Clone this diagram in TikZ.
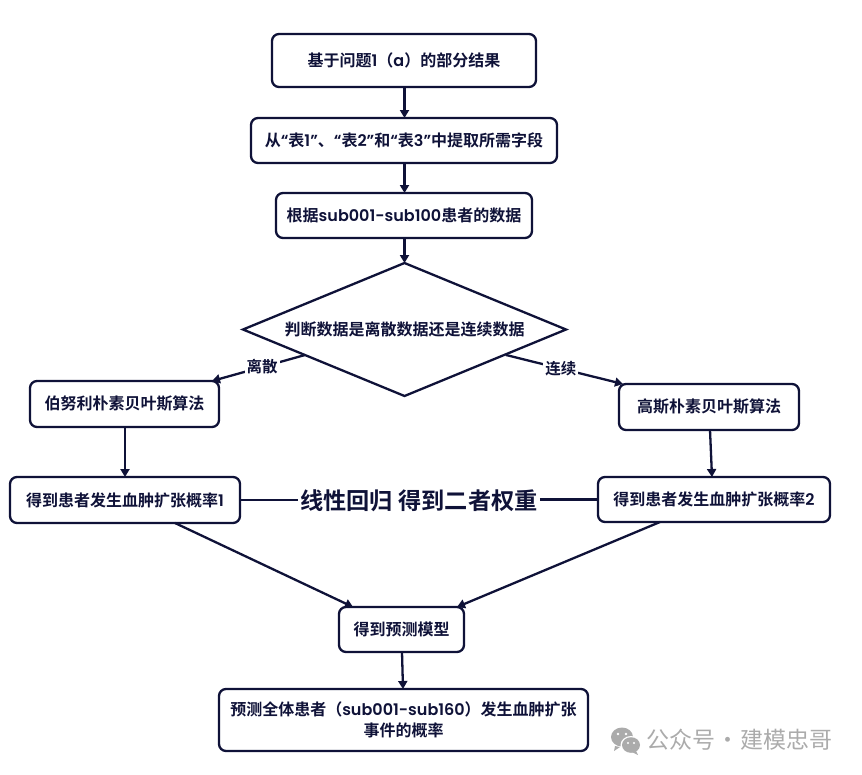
\documentclass[tikz,border=0pt]{standalone}
\usepackage{fontspec}
\setmainfont{Noto Sans CJK SC}[BoldFont={Noto Sans CJK SC Bold}]
\newfontfamily\latf{Poppins}[BoldFont={Poppins SemiBold}]
\newcommand{\lat}[1]{{\latf #1}}
\usetikzlibrary{shapes.geometric,arrows.meta}
\definecolor{ink}{HTML}{0F1238}
\definecolor{wm}{HTML}{ABABAB}
\tikzset{
  x=1pt,y=-1pt,
  box/.style={draw=ink,line width=2.3pt,rounded corners=7pt,fill=white,text=ink,font=\fontsize{16}{21}\selectfont\bfseries,align=center,inner sep=0pt,outer sep=0pt,anchor=north west},
  dia/.style={draw=ink,line width=2.3pt,diamond,aspect=2.4286,fill=white,text=ink,inner sep=0pt,outer sep=0pt,font=\fontsize{16}{21}\selectfont\bfseries,minimum width=323pt,minimum height=133pt},
  conn/.style={draw=ink,line width=2.3pt,-{Triangle[length=8pt,width=9pt]}},
  plainln/.style={draw=ink,line width=2.3pt},
  edgelab/.style={fill=white,text=ink,font=\fontsize{15.5}{18}\selectfont\bfseries,inner sep=2pt},
  biglab/.style={text=ink,font=\fontsize{23.2}{26}\selectfont\bfseries,inner sep=2pt},
  wmtext/.style={text=wm,font=\fontsize{23}{26}\selectfont,inner sep=0pt,anchor=west}
}
\newcommand{\bx}[6]{\node[box,minimum width=#4pt-#2pt,minimum height=#5pt-#3pt] (#1) at (#2,#3) {#6};}
\begin{document}
\begin{tikzpicture}
\useasboundingbox (0,0) rectangle (862,774);
\bx{A}{272}{34}{536}{87}{基于问题\lat{1}（\lat{a}）的部分结果}
\bx{B}{251}{118}{557}{163}{从\lat{“}表\lat{1”}、\lat{“}表\lat{2”}和\lat{“}表\lat{3”}中提取所需字段}
\bx{C}{276}{193}{532}{238}{根据\lat{sub001-sub100}患者的数据}
\node[dia] (Q) at (404.5,329.5) {判断数据是离散数据还是连续数据};
\bx{D}{30}{381}{219}{427}{伯努利朴素贝叶斯算法}
\bx{E}{10}{477}{240}{523}{得到患者发生血肿扩张概率\lat{1}}
\bx{F}{619}{384}{799}{430}{高斯朴素贝叶斯算法}
\bx{G}{598}{477}{830}{522}{得到患者发生血肿扩张概率\lat{2}}
\bx{H}{339}{607}{464}{652}{得到预测模型}
\bx{I}{219}{689}{588}{751}{预测全体患者（\lat{sub001-sub160}）发生血肿扩张\\事件的概率}
\coordinate (ql) at (305,355);
\coordinate (qr) at (506,355);
\coordinate (dt) at (212,381);
\coordinate (ft) at (623,384);
\coordinate (db) at (125,427);
\coordinate (et) at (125,477);
\coordinate (fb) at (710,430);
\coordinate (gt) at (712,477);
\coordinate (eb) at (175,523);
\coordinate (gb) at (660,522);
\coordinate (hl) at (353,607);
\coordinate (hr) at (457,607);
\coordinate (hb) at (402,652);
\coordinate (it) at (403,689);
\draw[conn] (A.south -| Q.north) -- (B.north -| Q.north);
\draw[conn] (B.south -| Q.north) -- (C.north -| Q.north);
\draw[conn] (C.south -| Q.north) -- (Q.north);
\draw[conn] (ql) -- node[edgelab,pos=0.46] (ll) {离散} (dt);
\draw[conn] (qr) -- node[edgelab,pos=0.47] (lr) {连续} (ft);
\draw[conn] (db) -- (et);
\draw[conn] (fb) -- (gt);
\draw[conn] (eb) -- (hl);
\draw[conn] (gb) -- (hr);
\draw[conn] (hb) -- (it);
\node[biglab] (R) at (419,501) {线性回归 得到二者权重};
\draw[plainln] (E.east) -- (R.west |- E.east);
\draw[plainln] (R.east |- G.west) -- (G.west);
% watermark
\fill[wm] (622,737) ellipse (11pt and 9.5pt);
\fill[wm] (615,746) -- (614,751) -- (620,747) -- cycle;
\fill[white] (631,745) ellipse (10.5pt and 9pt);
\fill[wm] (631,745) ellipse (9pt and 7.8pt);
\fill[wm] (636,751) -- (638,755) -- (632,752) -- cycle;
\fill[white] (618,734) circle (1.4pt) (626,734) circle (1.4pt) (628,743) circle (1.1pt) (634,743) circle (1.1pt);
\node[wmtext] (W) at (646,740) {公众号\hspace{1pt}·\hspace{1pt}建模忠哥};
\end{tikzpicture}
\end{document}
